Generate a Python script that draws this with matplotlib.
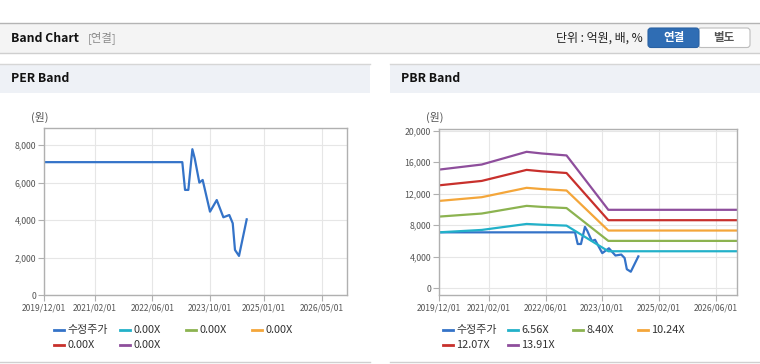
import matplotlib.pyplot as plt
import numpy as np
from matplotlib.patches import Rectangle, FancyBboxPatch
from matplotlib.lines import Line2D
from matplotlib.transforms import Affine2D

plt.rcParams['font.family'] = ['Noto Sans CJK KR', 'DejaVu Sans']

# adjusted share price (수정주가)
price_dates = ['2019-12-01', '2023-02-09', '2023-03-04', '2023-04-01', '2023-05-05',
               '2023-05-25', '2023-07-03', '2023-07-31', '2023-10-01', '2023-11-27',
               '2024-01-22', '2024-03-12', '2024-04-10', '2024-04-29', '2024-06-02',
               '2024-08-06']
price = [7100, 7100, 5620, 5620, 7790, 7300, 6010, 6150, 4460, 5080,
         4160, 4280, 3840, 2420, 2100, 4050]

# PBR band lines
band_dates = ['2019-12-01', '2020-11-29', '2021-12-20', '2022-04-29', '2022-11-28',
              '2023-11-22', '2026-12-04']
band_656 = [7105, 7405, 8165, 8070, 7950, 4700, 4700]
band_840 = [9100, 9485, 10460, 10330, 10180, 6015, 6015]
band_1024 = [11090, 11560, 12750, 12595, 12410, 7330, 7330]
band_1207 = [13070, 13625, 15025, 14845, 14630, 8640, 8640]
band_1391 = [15065, 15705, 17320, 17110, 16860, 9960, 9960]

pbr_labels = ['수정주가', '6.56X', '8.40X', '10.24X', '12.07X', '13.91X']
per_labels = ['수정주가', '0.00X', '0.00X', '0.00X', '0.00X', '0.00X']
colors = ['#3473c8', '#22b1c9', '#8cb350', '#f4a63a', '#c8302c', '#8e4e9c']

per_xticks = ['2019-12-01', '2021-02-01', '2022-06-01', '2023-10-01', '2025-01-01', '2026-05-01']
pbr_xticks = ['2019-12-01', '2021-02-01', '2022-06-01', '2023-10-01', '2025-02-01', '2026-06-01']
per_yticks = [0, 2000, 4000, 6000, 8000]
pbr_yticks = [0, 4000, 8000, 12000, 16000, 20000]
x_start, x_end = '2019-12-01', '2026-12-04'

W, H = 760, 364
fig = plt.figure(figsize=(W / 100, H / 100), dpi=100)
fig.patch.set_facecolor('white')
# pixel coords, y pointing down
pix = Affine2D().scale(1 / 100, -1 / 100).translate(0, H / 100) + fig.dpi_scale_trans


def rect(x0, y0, w, h, fc, ec='none', lw=0):
    fig.add_artist(Rectangle((x0, y0), w, h, transform=pix, fc=fc, ec=ec, lw=lw))


def hline(x0, x1, y, color):
    fig.add_artist(Line2D([x0, x1], [y, y], transform=pix, color=color, lw=1))


# top header
rect(0, 22.5, W, 30, '#f4f4f4')
hline(0, W, 22.5, '#b4b4b4')
hline(0, W, 52.5, '#cfcfcf')
fig.text(11, 38, 'Band Chart', transform=pix, fontsize=8.8, fontweight='bold',
         color='#111111', va='center')
fig.text(88, 38, '[연결]', transform=pix, fontsize=8.2, color='#8a8a8a', va='center')
fig.text(643, 38, '단위 : 억원, 배, %', transform=pix, fontsize=8.6, color='#222222',
         va='center', ha='right')
fig.add_artist(FancyBboxPatch((698, 28), 52, 19.5, boxstyle='round,pad=0,rounding_size=3',
                              transform=pix, fc='white', ec='#bdbdbd', lw=0.8))
fig.add_artist(FancyBboxPatch((648, 28), 51, 19.5, boxstyle='round,pad=0,rounding_size=3',
                              transform=pix, fc='#2f6db4', ec='#2a62a3', lw=0.8))
fig.text(673.5, 38, '연결', transform=pix, fontsize=8.3, fontweight='bold', color='white',
         ha='center', va='center')
fig.text(724, 38, '별도', transform=pix, fontsize=8.3, fontweight='bold', color='#555555',
         ha='center', va='center')

# panel headers and bottom rules
for px0, title in [(0, 'PER Band'), (390, 'PBR Band')]:
    rect(px0, 64, 370, 28.5, '#eef1f6')
    hline(px0, px0 + 370, 64, '#d6d6d6')
    hline(px0, px0 + 370, 362, '#d0d0d0')
    fig.text(px0 + 11, 79, title, transform=pix, fontsize=8.8, fontweight='bold',
             color='#111111', va='center')


def style_axis(ax, xticks, yticks, ylim):
    ax.set_xlim(np.datetime64(x_start), np.datetime64(x_end))
    ax.set_ylim(*ylim)
    ax.set_xticks(np.array(xticks, dtype='datetime64[D]'))
    ax.set_xticklabels([t.replace('-', '/') for t in xticks])
    ax.set_yticks(yticks)
    ax.set_yticklabels([f'{v:,}' for v in yticks])
    ax.grid(True, color='#e6e6e6', lw=0.8)
    ax.set_axisbelow(True)
    for s in ax.spines.values():
        s.set_color('#b0b0b0')
        s.set_linewidth(1.0)
    ax.tick_params(axis='x', length=4, width=0.8, color='#b0b0b0', labelsize=6.1,
                   labelcolor='#555555', pad=2)
    ax.tick_params(axis='y', length=4, width=0.8, color='#b0b0b0', labelsize=6.3,
                   labelcolor='#555555', pad=2)


def legend(x_cols, labels):
    for i, (lab, c) in enumerate(zip(labels, colors)):
        col, row = i % 4, i // 4
        x = x_cols[col]
        y = 330 + row * 14.5
        fig.add_artist(Line2D([x, x + 10], [y, y], transform=pix, color=c, lw=2))
        fig.text(x + 13.5, y, lab, transform=pix, fontsize=7.9, color='#333333', va='center')


# PER panel
ax1 = fig.add_axes([44.3 / W, 1 - 295.3 / H, 303 / W, 167 / H])
ax1.plot(np.array(price_dates, dtype='datetime64[D]'), price, color=colors[0], lw=1.6)
style_axis(ax1, per_xticks, per_yticks, (0, 8905))
fig.text(40, 117, '(원)', transform=pix, fontsize=7.8, color='#555555', va='center', ha='center')
legend([54, 120, 186, 251.5], per_labels)

# PBR panel
ax2 = fig.add_axes([439.3 / W, 1 - 295.3 / H, 298 / W, 166.3 / H])
bd = np.array(band_dates, dtype='datetime64[D]')
ax2.plot(np.array(price_dates, dtype='datetime64[D]'), price, color=colors[0], lw=1.6)
for vals, c in zip([band_656, band_840, band_1024, band_1207, band_1391], colors[1:]):
    ax2.plot(bd, vals, color=c, lw=1.6)
style_axis(ax2, pbr_xticks, pbr_yticks, (-890, 20215))
fig.text(435, 117, '(원)', transform=pix, fontsize=7.8, color='#555555', va='center', ha='center')
legend([443, 508, 573, 638], pbr_labels)

fig.savefig('out.png', dpi=100)
